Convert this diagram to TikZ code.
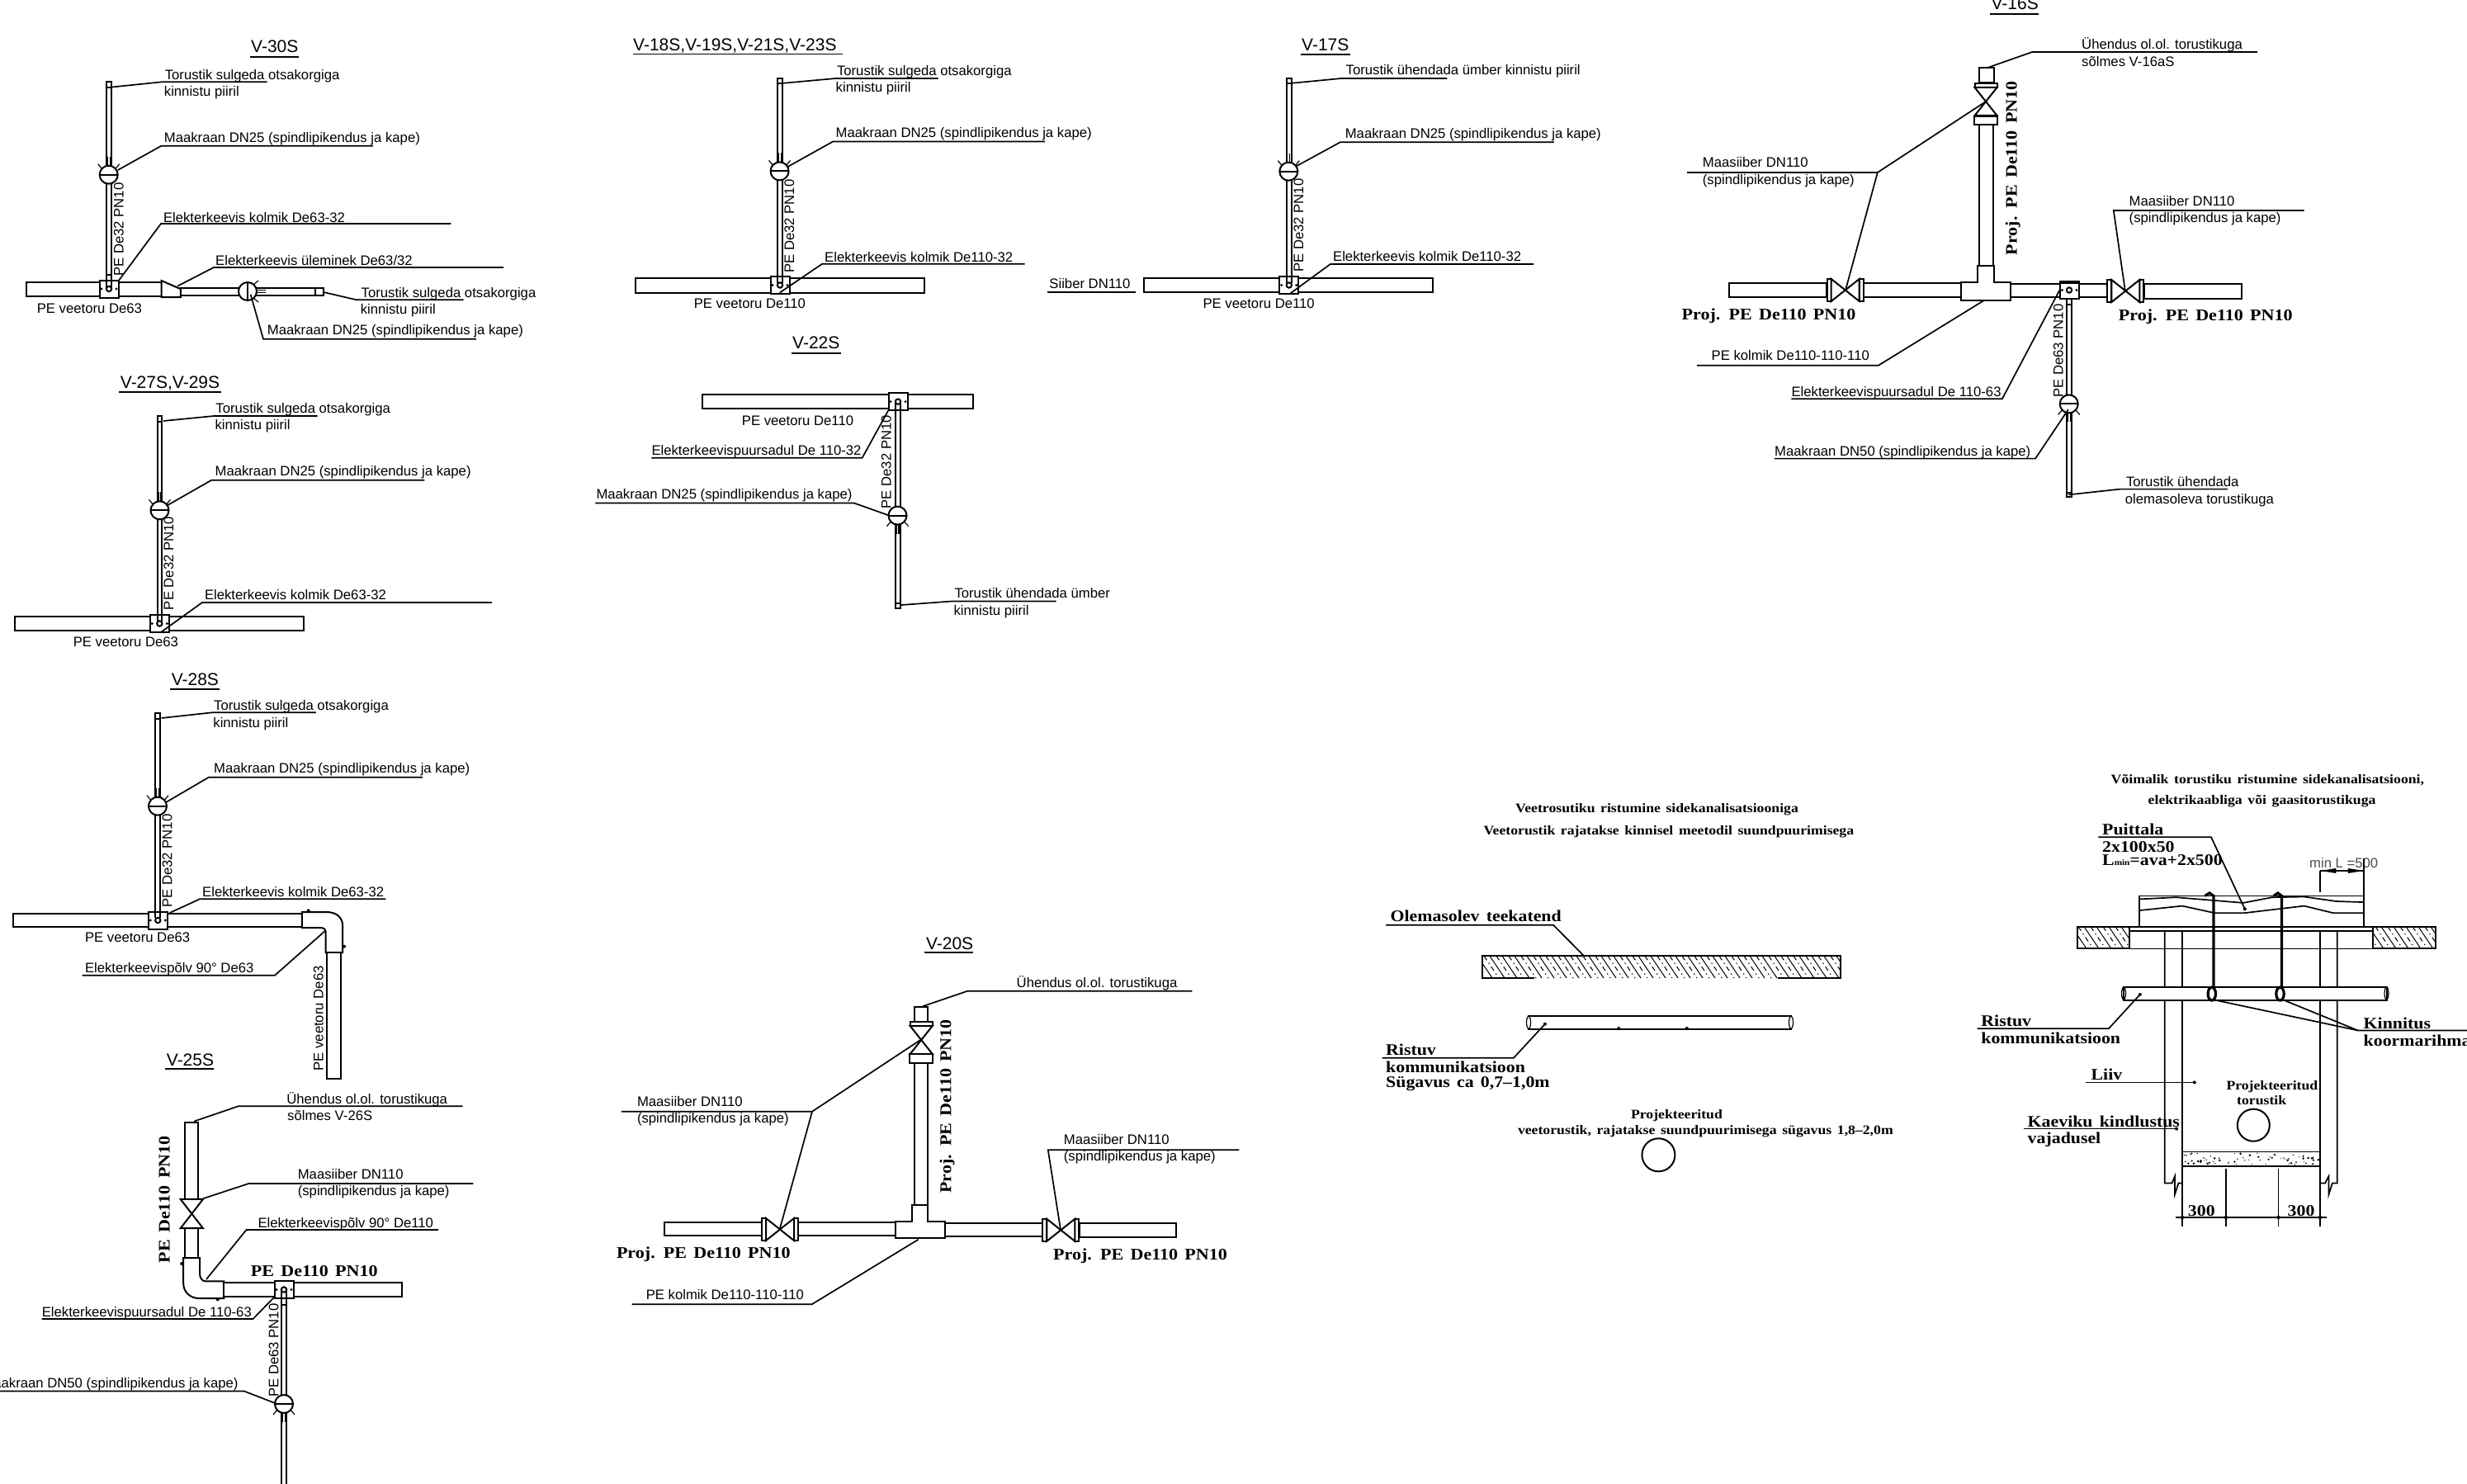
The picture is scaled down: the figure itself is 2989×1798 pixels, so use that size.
\documentclass[tikz,border=0pt]{standalone}
\usepackage{fontspec}
\setmainfont{Liberation Sans}
\newfontfamily\cadfont[FakeStretch=1.12,WordSpace=1.5]{Liberation Serif}
\tikzset{
    lbl/.style={anchor=base west,inner sep=0pt,font=\fontsize{16.7}{20}\selectfont},
    lble/.style={lbl,anchor=base east},
    vlbl/.style={lbl,rotate=90},
    ttl/.style={lbl,font=\fontsize{21}{24}\selectfont},
    cad/.style={anchor=base west,inner sep=0pt,font=\cadfont\bfseries\fontsize{#1}{#1}\selectfont},
    vcad/.style={cad=#1,rotate=90},
    pipe/.style={draw,line width=2pt,fill=white},
    leader/.style={draw,line width=1.7pt},
    thinl/.style={draw,line width=1.2pt},
    hatchl/.style={draw,line width=1pt},
    strap/.style={draw,line width=3.2pt}
}
\newcommand{\maakraan}[3]{
    \begin{scope}[shift={(#1,#2)},rotate=#3]
        \draw[thinl] (-1.5,-22) -- (-1.5,-11) (1.5,-22) -- (1.5,-11);
        \draw[thinl] (-13,-13) -- (-8,-7) (13,-13) -- (8,-7);
        \draw[pipe] (0,0) circle[radius=11];
        \draw[pipe] (-11,0) -- (11,0);
    \end{scope}
}
\newcommand{\sadul}[2]{
    \draw[pipe] (#1-11.5,#2-10.5) rectangle (#1+11.5,#2+10.5);
    \draw[pipe] (#1,#2) circle[radius=3.2];
    \fill (#1-9,#2) circle[radius=1.6] (#1+9,#2) circle[radius=1.6];
}
\newcommand{\siiber}[3]{
    \begin{scope}[shift={(#1,#2)},rotate=#3]
        \draw[pipe] (-22,-13.5) rectangle (-17,13.5);
        \draw[pipe] (17,-13.5) rectangle (22,13.5);
        \draw[pipe] (-17,-13.5) -- (17,13.5) -- (17,-13.5) -- (-17,13.5) -- cycle;
    \end{scope}
}
\begin{document}
\begin{tikzpicture}[x=1pt,y=-1pt]
    \path[use as bounding box,fill=white] (0,0) rectangle (2989,1798);

    % V-30S
    \node[ttl] (v30) at (304,63.3) {V-30S};
    \draw[leader] (303,69) -- (362,69);
    \draw[pipe] (32,341.7) rectangle (195.5,358.7);
    \draw[pipe] (128.5,99.3) rectangle (135,340);
    \draw[pipe] (128.5,99.3) rectangle (135,106);
    \draw[pipe] (128.5,333.3) rectangle (135,342);
    \sadul{132}{350}
    \draw[pipe] (128.5,333.3) -- (128.5,349) (135,333.3) -- (135,349);
    \maakraan{131.7}{211.7}{0}
    \draw[pipe] (195.5,340) -- (215,348.5) -- (218.8,350) -- (218.8,360) -- (195.5,360) -- cycle;
    \draw[pipe] (218.8,349.3) rectangle (392,358.3);
    \draw[pipe] (381.7,349.3) rectangle (392,358.3);
    \maakraan{300}{353}{-90}
    \node[lbl] (t30a) at (199.6,96.7) {Torustik sulgeda otsakorgiga};
    \node[lbl] (t30b) at (198.7,116.7) {kinnistu piiril};
    \draw[leader] (134,105.7) -- (196,99.3) -- (323.6,99.3);
    \node[lbl] (m30) at (198.7,172.3) {Maakraan DN25 (spindlipikendus ja kape)};
    \draw[leader] (142.9,206) -- (195.5,176.7) -- (451.8,176.7);
    \node[vlbl] (p30) at (149.5,335) {PE De32 PN10};
    \node[lbl] (k30) at (197.8,269) {Elekterkeevis kolmik De63-32};
    \draw[leader] (143.8,340) -- (195,271) -- (546.4,271);
    \node[lbl] (u30) at (261,321.7) {Elekterkeevis üleminek De63/32};
    \draw[leader] (215,346.7) -- (259,324) -- (610,324);
    \node[lbl] (w30) at (44.6,379.3) {PE veetoru De63};
    \node[lbl] (t30c) at (437.5,360) {Torustik sulgeda otsakorgiga};
    \node[lbl] (t30d) at (436.6,380) {kinnistu piiril};
    \draw[leader] (392,354) -- (432,363.3) -- (561.6,363.3);
    \node[lbl] (m30b) at (323.7,405) {Maakraan DN25 (spindlipikendus ja kape)};
    \draw[leader] (303.6,356.7) -- (319,410.7) -- (576.8,410.7);

    % V-27S,V-29S
    \node[ttl] (v27) at (145.7,470.7) {V-27S,V-29S};
    \draw[leader] (144,475) -- (268,475);
    \draw[pipe] (18.4,747.3) rectangle (368.2,764);
    \draw[pipe] (190.6,504) rectangle (196.3,746.7);
    \draw[pipe] (190.6,504) rectangle (196.3,510.7);
    \sadul{193.3}{755.5}
    \draw[pipe] (190.6,738.3) -- (190.6,753) (196.3,738.3) -- (196.3,753);
    \maakraan{193.5}{618.3}{0}
    \node[lbl] (t27a) at (261.2,500.7) {Torustik sulgeda otsakorgiga};
    \node[lbl] (t27b) at (260.4,520.7) {kinnistu piiril};
    \draw[leader] (198,510) -- (259.2,504) -- (384.5,504);
    \node[lbl] (m27) at (260.4,576.7) {Maakraan DN25 (spindlipikendus ja kape)};
    \draw[leader] (202,612.7) -- (256.3,581.7) -- (514.3,581.7);
    \node[vlbl] (p27) at (210.2,739.3) {PE De32 PN10};
    \node[lbl] (k27) at (247.8,726.7) {Elekterkeevis kolmik De63-32};
    \draw[leader] (195,766) -- (244.9,730) -- (595.9,730);
    \node[lbl] (w27) at (88.6,783.3) {PE veetoru De63};

    % V-28S
    \node[ttl] (v28) at (207.6,830.7) {V-28S};
    \draw[leader] (206,835) -- (265.7,835);
    \draw[pipe] (15.8,1106.7) rectangle (365.8,1123.3);
    \draw[pipe] (188.2,864) rectangle (193.8,1106);
    \draw[pipe] (188.2,864) rectangle (193.8,870.7);
    \sadul{191.3}{1115}
    \draw[pipe] (188.2,1096.7) -- (188.2,1112) (193.8,1096.7) -- (193.8,1112);
    \maakraan{191}{976.7}{0}
    \draw[pipe] (365.8,1105) -- (395.4,1105) .. controls (408,1105) and (415.2,1112) .. (415.2,1121.7) -- (415.2,1154) -- (394.6,1154) -- (394.6,1128.3) .. controls (394.6,1126) and (392,1124) .. (389.5,1124) -- (365.8,1124) -- cycle;
    \draw[pipe] (396.2,1154) rectangle (413.2,1307);
    \fill (373.7,1103.3) circle[radius=2] (417,1146.7) circle[radius=2];
    \node[lbl] (t28a) at (259,860.7) {Torustik sulgeda otsakorgiga};
    \node[lbl] (t28b) at (258.2,881) {kinnistu piiril};
    \draw[leader] (195.7,870) -- (257,863.3) -- (382.8,863.3);
    \node[lbl] (m28) at (259,936.7) {Maakraan DN25 (spindlipikendus ja kape)};
    \draw[leader] (201.7,971.7) -- (253,941.7) -- (512,941.7);
    \node[vlbl] (p28) at (208.4,1100) {PE De32 PN10};
    \node[lbl] (k28) at (245,1086) {Elekterkeevis kolmik De63-32};
    \draw[leader] (205.6,1106) -- (242,1089.3) -- (467.4,1089.3);
    \node[vlbl] (w28b) at (391.5,1297.7) {PE veetoru De63};
    \node[lbl] (w28) at (102.8,1141.7) {PE veetoru De63};
    \node[lbl] (e28) at (102.8,1178.3) {Elekterkeevispõlv 90° De63};
    \draw[leader] (393.4,1128.3) -- (333,1181.7) -- (99.6,1181.7);

    % V-25S
    \node[ttl] (v25) at (201.7,1291.6) {V-25S};
    \draw[leader] (199.7,1295) -- (259,1295);
    \draw[pipe] (223.8,1359.5) rectangle (240.4,1452.9);
    \draw[pipe] (223.8,1488.2) rectangle (240.4,1524);
    \draw[pipe] (218.7,1452.9) -- (246,1452.9) -- (218.7,1488.2) -- (246,1488.2) -- cycle;
    \draw[pipe] (222.2,1524) -- (242,1524) -- (242,1543) .. controls (242,1548) and (245,1552.4) .. (249,1552.4) -- (271.3,1552.4) -- (271.3,1573) -- (241.2,1573) .. controls (230,1573) and (222.2,1565) .. (222.2,1555) -- cycle;
    \draw[pipe] (271.3,1554.4) rectangle (487,1571.3);
    \fill (220.2,1531) circle[radius=2] (263.7,1574.3) circle[radius=2];
    \draw[pipe] (341.2,1568) rectangle (346.8,1810);
    \draw[pipe] (341.2,1573) -- (346.8,1573) (341.2,1581) -- (346.8,1581);
    \sadul{344}{1562.5}
    \draw[pipe] (341.2,1564) -- (341.2,1574) (346.8,1564) -- (346.8,1574);
    \maakraan{344}{1701}{180}
    \node[cad=19.7] (h25) at (303.7,1546.9) {PE  De110  PN10};
    \node[vcad=19.7] (r25) at (205.6,1530.4) {PE  De110  PN10};
    \node[lbl] (o25) at (347.2,1337.2) {Ühendus ol.ol. torustikuga};
    \node[lbl] (o25b) at (348,1357.8) {sõlmes V-26S};
    \draw[leader] (235.3,1358.5) -- (288.7,1340.3) -- (560.7,1340.3);
    \node[lbl] (s25) at (360.6,1428) {Maasiiber DN110};
    \node[lbl] (s25b) at (360.6,1448) {(spindlipikendus ja kape)};
    \draw[leader] (246,1452.2) -- (301.3,1434) -- (573.4,1434);
    \node[lbl] (e25) at (312.4,1487) {Elekterkeevispõlv 90° De110};
    \draw[leader] (250,1550) -- (298.5,1490) -- (531,1490);
    \node[lbl] (a25) at (50.6,1595.6) {Elekterkeevispuursadul De 110-63};
    \draw[leader] (333.3,1570.6) -- (306.5,1598) -- (50.6,1598);
    \node[vlbl] (p25) at (337.3,1693) {PE De63 PN10};
    \node[lble] (m25) at (288.7,1681.4) {Maakraan DN50 (spindlipikendus ja kape)};
    \draw[leader] (334,1700.3) -- (295.8,1685.5) -- (0,1685.5);

    % V-18S,V-19S,V-21S,V-23S
    \node[ttl] (v18) at (767,62) {V-18S,V-19S,V-21S,V-23S};
    \draw[leader] (767,65.4) -- (1020.5,65.4);
    \draw[pipe] (770,336.7) rectangle (1119.6,354.7);
    \draw[pipe] (942,95) rectangle (948.2,336);
    \draw[pipe] (942,95) rectangle (948.2,101);
    \sadul{945}{345.5}
    \draw[pipe] (942,327) -- (942,343) (948.2,327) -- (948.2,343);
    \maakraan{944.6}{207.4}{0}
    \node[lbl] (t18a) at (1013.8,91.3) {Torustik sulgeda otsakorgiga};
    \node[lbl] (t18b) at (1012.5,111.2) {kinnistu piiril};
    \draw[leader] (948.7,100.8) -- (1012.5,95) -- (1136.6,95);
    \node[lbl] (m18) at (1012.5,166.9) {Maakraan DN25 (spindlipikendus ja kape)};
    \draw[leader] (954.5,202) -- (1009,171.6) -- (1266,171.6);
    \node[vlbl] (p18) at (962,331) {PE De32 PN10};
    \node[lbl] (k18) at (999,317) {Elekterkeevis kolmik De110-32};
    \draw[leader] (944.6,354.7) -- (996,319.8) -- (1241.5,319.8);
    \node[lbl] (w18) at (840.6,373.6) {PE veetoru De110};

    % V-22S
    \node[ttl] (v22) at (960,422.6) {V-22S};
    \draw[leader] (959.4,427.8) -- (1019,427.8);
    \draw[pipe] (850.9,478.3) rectangle (1178.6,495.3);
    \draw[pipe] (1084.8,495) rectangle (1090.6,737);
    \draw[pipe] (1084.8,731) rectangle (1090.6,737);
    \sadul{1088}{486.6}
    \draw[pipe] (1084.8,488) -- (1084.8,502) (1090.6,488) -- (1090.6,502);
    \maakraan{1087.5}{624.6}{180}
    \node[lbl] (w22) at (898.7,515) {PE veetoru De110};
    \node[lbl] (a22) at (789.3,551.5) {Elekterkeevispuursadul De 110-32};
    \draw[leader] (1076.3,497.2) -- (1044.6,554.8) -- (789.3,554.8);
    \node[lbl] (m22) at (722.3,604.8) {Maakraan DN25 (spindlipikendus ja kape)};
    \draw[leader] (1077.2,624.6) -- (1034.8,609.5) -- (721.4,609.5);
    \node[vlbl] (p22) at (1079.5,616.6) {PE De32 PN10};
    \node[lbl] (t22a) at (1156.3,724.7) {Torustik ühendada ümber};
    \node[lbl] (t22b) at (1155.4,745) {kinnistu piiril};
    \draw[leader] (1092,733) -- (1154.5,728.4) -- (1279.5,728.4);

    % V-17S
    \node[ttl] (v17) at (1577,61.7) {V-17S};
    \draw[leader] (1576,66) -- (1636,66);
    \draw[pipe] (1386.3,337.3) rectangle (1736.3,354);
    \draw[pipe] (1558.7,95) rectangle (1564.5,336);
    \draw[pipe] (1558.7,95) rectangle (1564.5,101);
    \sadul{1561.8}{345.5}
    \draw[pipe] (1558.7,328.3) -- (1558.7,343) (1564.5,328.3) -- (1564.5,343);
    \maakraan{1561.3}{207.7}{0}
    \node[lbl] (t17) at (1630.5,91) {Torustik ühendada ümber kinnistu piiril};
    \draw[leader] (1565.8,100.7) -- (1625.2,95) -- (1753.3,95);
    \node[lbl] (m17) at (1629.6,167.7) {Maakraan DN25 (spindlipikendus ja kape)};
    \draw[leader] (1570,201.7) -- (1623.8,172.3) -- (1882.8,172.3);
    \node[vlbl] (p17) at (1579.2,330) {PE De32 PN10};
    \node[lbl] (k17) at (1614.9,316.7) {Elekterkeevis kolmik De110-32};
    \draw[leader] (1562.7,356) -- (1611.8,320) -- (1858.2,320);
    \node[lbl] (w17) at (1457.3,373.3) {PE veetoru De110};
    \node[lbl] (b17) at (1271.2,349.3) {Siiber DN110};
    \draw[leader] (1269,354) -- (1376,354);

    % V-16S
    \node[ttl] (v16) at (2412.4,12) {V-16S};
    \draw[leader] (2410.8,17.3) -- (2470.3,17.3);
    \draw[pipe] (2398,82.4) rectangle (2416.2,100.4);
    \draw[pipe] (2398,150.7) rectangle (2415,322);
    \draw[pipe] (2095.3,342.7) rectangle (2213,359.6);
    \draw[pipe] (2257.6,342.7) rectangle (2375.5,360.4);
    \draw[pipe] (2435.5,343.5) rectangle (2552.8,360.4);
    \draw[pipe] (2597.7,344.3) rectangle (2716,361.6);
    \siiber{2235.7}{351.5}{0}
    \siiber{2575.3}{352.5}{0}
    \siiber{2406}{123}{90}
    \draw[pipe] (2392,140.6) rectangle (2420,150.7);
    \draw[pipe] (2395.8,342.3) -- (2395.8,322) -- (2416.2,322) -- (2416.2,342.3) -- (2435.5,342.3) -- (2435.5,363.6) -- (2375.5,363.6) -- (2375.5,342.3) -- cycle;
    \draw[pipe] (2504,361.6) rectangle (2510.4,601.9);
    \draw[pipe] (2504,596.6) rectangle (2510.4,601.9);
    \draw[pipe] (2504,361.6) rectangle (2510.4,368.8);
    \draw[pipe] (2496,340.7) rectangle (2518.5,361.6);
    \draw[pipe] (2507,351.5) circle[radius=3.2];
    \fill (2498.5,351.5) circle[radius=1.6] (2516,351.5) circle[radius=1.6];
    \draw[line width=3pt] (2496,342.5) -- (2518.5,342.5);
    \maakraan{2506.7}{489.4}{180}
    \node[lbl] (o16) at (2522,59.5) {Ühendus ol.ol. torustikuga};
    \node[lbl] (o16b) at (2522,80.4) {sõlmes V-16aS};
    \draw[leader] (2407,82.4) -- (2462.2,63) -- (2734.9,63);
    \node[lbl] (s16) at (2062.7,203) {Maasiiber DN110};
    \node[lbl] (s16b) at (2062.7,223) {(spindlipikendus ja kape)};
    \draw[leader] (2044,209) -- (2274.8,209) -- (2405.5,123.3);
    \draw[leader] (2274.8,209) -- (2236,351.5);
    \node[lbl] (s16c) at (2579.5,249) {Maasiiber DN110};
    \node[lbl] (s16d) at (2579.5,269) {(spindlipikendus ja kape)};
    \draw[leader] (2791.6,255) -- (2560.8,255) -- (2574.7,351.5);
    \node[cad=19.7] (h16) at (2037.5,387.7) {Proj.  PE  De110  PN10};
    \node[cad=19.7] (h16b) at (2566.7,388.9) {Proj.  PE  De110  PN10};
    \node[vcad=19.7] (r16) at (2443.5,309.4) {Proj.  PE  De110  PN10};
    \node[lbl] (k16) at (2073.4,436.7) {PE kolmik De110-110-110};
    \draw[leader] (2404.4,363.6) -- (2275.8,442.8) -- (2056.2,442.8);
    \node[lbl] (a16) at (2170.3,480) {Elekterkeevispuursadul De 110-63};
    \draw[leader] (2495.4,351.5) -- (2425.8,483.3) -- (2170.3,483.3);
    \node[vlbl] (p16) at (2499.7,482) {PE De63 PN10};
    \node[lbl] (m16) at (2150,552.4) {Maakraan DN50 (spindlipikendus ja kape)};
    \draw[leader] (2506,496) -- (2466,555.6) -- (2150,555.6);
    \node[lbl] (t16a) at (2575.8,589.4) {Torustik ühendada};
    \node[lbl] (t16b) at (2574.7,610.7) {olemasoleva torustikuga};
    \draw[leader] (2506.2,599.4) -- (2568.8,592.6) -- (2699,592.6);

    % V-20S
    \node[ttl] (v20) at (1121.8,1150) {V-20S};
    \draw[leader] (1120.3,1154.3) -- (1179,1154.3);
    \draw[pipe] (1107.6,1220) rectangle (1124.4,1238.3);
    \draw[pipe] (1107.6,1288.3) rectangle (1124.4,1460);
    \draw[pipe] (805,1480.7) rectangle (922.9,1497.3);
    \draw[pipe] (967.2,1480.7) rectangle (1085,1497.3);
    \draw[pipe] (1144.8,1481.7) rectangle (1263,1498.3);
    \draw[pipe] (1307.6,1482.3) rectangle (1425,1499);
    \siiber{945}{1489.5}{0}
    \siiber{1285.3}{1490.3}{0}
    \siiber{1116.2}{1260}{90}
    \draw[pipe] (1102.4,1277.3) rectangle (1130,1288.3);
    \draw[pipe] (1105,1480) -- (1105,1460) -- (1124.4,1460) -- (1124.4,1480) -- (1144.8,1480) -- (1144.8,1500) -- (1085,1500) -- (1085,1480) -- cycle;
    \node[lbl] (o20) at (1231.5,1196.7) {Ühendus ol.ol. torustikuga};
    \draw[leader] (1117.8,1219.3) -- (1172.3,1200.7) -- (1444.3,1200.7);
    \node[lbl] (s20) at (771.8,1340.7) {Maasiiber DN110};
    \node[lbl] (s20b) at (771.8,1360.7) {(spindlipikendus ja kape)};
    \draw[leader] (753,1346.7) -- (984,1346.7) -- (1115.2,1260);
    \draw[leader] (984,1346.7) -- (944.8,1489);
    \node[lbl] (s20c) at (1288.7,1386.7) {Maasiiber DN110};
    \node[lbl] (s20d) at (1288.7,1406.7) {(spindlipikendus ja kape)};
    \draw[leader] (1501.4,1393.3) -- (1269.8,1393.3) -- (1285,1490);
    \node[cad=19.7] (h20) at (746.8,1524) {Proj.  PE  De110  PN10};
    \node[cad=19.7] (h20b) at (1276,1526) {Proj.  PE  De110  PN10};
    \node[vcad=19.7] (r20) at (1152.4,1446) {Proj.  PE  De110  PN10};
    \node[lbl] (k20) at (782.6,1574) {PE kolmik De110-110-110};
    \draw[leader] (1112.7,1501.7) -- (983.6,1580.3) -- (765.7,1580.3);

    % Veetorustiku ristumine
    \node[cad=15.8] (x1a) at (1836,984.3) {Veetrosutiku  ristumine  sidekanalisatsiooniga};
    \node[cad=15.8] (x1b) at (1797.3,1011) {Veetorustik  rajatakse  kinnisel  meetodil  suundpuurimisega};
    \node[cad=19.5] (x1c) at (1684.4,1116.7) {Olemasolev  teekatend};
    \draw[leader] (1679,1120.7) -- (1882,1120.7) -- (1919.2,1158.3);
    \begin{scope}
        \clip (1796,1158.3) rectangle (2230.4,1185);
        \foreach \hx in {0,15,...,435} {
            \draw[hatchl] (1790+\hx,1158.3) -- (1808+\hx,1185);
            \draw[hatchl,dash pattern=on 6pt off 4pt on 1.5pt off 4pt] (1798+\hx,1158.3) -- (1816+\hx,1185);
        }
    \end{scope}
    \draw[pipe,fill=none] (1859,1185) -- (1796,1185) -- (1796,1158.3) -- (2230.4,1158.3) -- (2230.4,1185) -- (2153.6,1185);
    \draw[pipe] (1850.9,1231) -- (2171.4,1231) (1850.9,1246.7) -- (2171.4,1246.7);
    \draw[thinl] (1852,1238.8) ellipse[x radius=2.5,y radius=7.5] (2170,1238.8) ellipse[x radius=2.5,y radius=7.5];
    \fill (1961.2,1246) circle[radius=2] (2043.8,1246) circle[radius=2] (1871.9,1240.7) circle[radius=2];
    \node[cad=19.5] (x1d) at (1679,1278.3) {Ristuv};
    \draw[leader] (1674.6,1281.7) -- (1834,1281.7) -- (1871.9,1240.7);
    \node[cad=19.5] (x1e) at (1679,1299.3) {kommunikatsioon};
    \node[cad=19.5] (x1f) at (1679,1317.7) {Sügavus  ca  0,7–1,0m};
    \node[cad=15.8] (x1g) at (1975.9,1355) {Projekteeritud};
    \node[cad=15.8] (x1h) at (1838.8,1374.3) {veetorustik,  rajatakse  suundpuurimisega  sügavus  1,8–2,0m};
    \draw[pipe] (2009.4,1399.3) circle[radius=20];

    % Voimalik ristumine
    \node[cad=15.8] (x2a) at (2557.5,949.6) {Võimalik  torustiku  ristumine  sidekanalisatsiooni,};
    \node[cad=15.8] (x2b) at (2602.5,974.8) {elektrikaabliga  või  gaasitorustikuga};
    \node[cad=19.5] (x2c) at (2547,1011.7) {Puittala};
    \draw[leader] (2542.3,1014.3) -- (2679,1014.3) -- (2719.8,1101.3);
    \fill (2719.8,1101.3) circle[radius=2];
    \node[cad=19.5] (x2d) at (2547,1032) {2x100x50};
    \node[cad=19.5] (x2e) at (2547,1048.7) {L{\fontsize{10}{10}\selectfont min}=ava+2x500};
    \node[lbl,text=black!70] (x2f) at (2797.9,1051.3) {min L =500};
    \draw[thinl] (2811,1055) -- (2811,1081) (2863.9,1040) -- (2863.9,1122.7);
    \draw[thinl] (2811,1055) -- (2863.9,1055);
    \fill (2811,1055) -- (2830.4,1052) -- (2830.4,1058) -- cycle;
    \fill (2863.9,1055) -- (2844.9,1052) -- (2844.9,1058) -- cycle;
    \draw[leader] (2592,1085.4) -- (2863.9,1085.4) -- (2863.9,1122.7) -- (2592,1122.7) -- cycle;
    \draw[leader] (2592,1089.4) -- (2636.3,1087.2) -- (2683,1091) -- (2717.9,1093.9) -- (2752.8,1087.2) -- (2791.7,1086.5) -- (2830.5,1092) -- (2863.9,1093.1);
    \draw[leader] (2592,1103.1) -- (2644,1097.6) -- (2683,1106.1) -- (2719.8,1106.1) -- (2791.7,1097.6) -- (2826.6,1106.1) -- (2863.9,1106.1);
    \begin{scope}
        \clip (2516.7,1122.7) rectangle (2580,1149.4) (2875.1,1122.7) rectangle (2950.9,1149.4);
        \foreach \hx in {0,15,...,435} {
            \draw[hatchl] (2510+\hx,1122.7) -- (2528+\hx,1149.4);
            \draw[hatchl,dash pattern=on 6pt off 4pt on 1.5pt off 4pt] (2518+\hx,1122.7) -- (2536+\hx,1149.4);
        }
    \end{scope}
    \draw[pipe,fill=none] (2516.7,1122.7) rectangle (2580,1149.4);
    \draw[pipe,fill=none] (2875.1,1122.7) rectangle (2950.9,1149.4);
    \draw[leader] (2580,1122.7) -- (2875.1,1122.7) (2580,1128) -- (2875.1,1128) (2580,1149.4) -- (2875.1,1149.4);
    \draw[leader] (2622.7,1128) -- (2622.7,1433.5) -- (2631.6,1433.5) -- (2635,1425) -- (2635,1447) -- (2639.4,1433.5) -- (2644,1433.5);
    \draw[leader] (2644,1128) -- (2644,1486);
    \draw[leader] (2811,1128) -- (2811,1486);
    \draw[leader] (2811,1433.5) -- (2817,1433.5) -- (2821.5,1425) -- (2821.5,1447) -- (2825.8,1433.5) -- (2831.7,1433.5) -- (2831.7,1128);
    \draw[pipe] (2573,1195.6) rectangle (2891.5,1211.5);
    \draw[thinl] (2573,1203.5) ellipse[x radius=2.5,y radius=7.5] (2891.5,1203.5) ellipse[x radius=2.5,y radius=7.5];
    \draw[strap] (2671.3,1085.4) -- (2677,1082) -- (2682,1085.4) -- (2682,1195.6);
    \draw[strap] (2754.8,1085.4) -- (2759.8,1082) -- (2764.5,1085.4) -- (2764.5,1195.6);
    \draw[strap] (2679.8,1204.1) ellipse[x radius=4.7,y radius=8] (2762.5,1204.1) ellipse[x radius=4.7,y radius=8];
    \node[cad=19.5] (x2g) at (2400.2,1243.7) {Ristuv};
    \node[cad=19.5] (x2h) at (2400.2,1264) {kommunikatsioon};
    \draw[leader] (2395.5,1246.3) -- (2554.8,1246.3) -- (2592.8,1204.9);
    \fill (2592.8,1204.9) circle[radius=2];
    \node[cad=19.5] (x2i) at (2863.5,1246.3) {Kinnitus};
    \node[cad=19.5] (x2j) at (2863.5,1267) {koormarihma};
    \draw[leader] (2989,1248.5) -- (2856.9,1248.5) -- (2682.9,1211.5);
    \draw[leader] (2856.9,1248.5) -- (2766.4,1211.5);
    \node[cad=19.5] (x2k) at (2533.4,1308.5) {Liiv};
    \draw[leader] (2526.8,1311.4) -- (2658.8,1311.4);
    \fill (2658.8,1311.4) circle[radius=2];
    \node[cad=15.8] (x2l) at (2697.3,1320.3) {Projekteeritud};
    \node[cad=15.8] (x2m) at (2710,1338.8) {torustik};
    \draw[pipe] (2730.3,1363.2) circle[radius=19.5];
    \node[cad=19.5] (x2n) at (2456.5,1365.8) {Kaeviku  kindlustus};
    \draw[leader] (2451.5,1367.6) -- (2637,1367.6);
    \fill (2637,1367.6) circle[radius=2];
    \node[cad=19.5] (x2o) at (2456.5,1385.4) {vajadusel};
    \draw[leader] (2644,1395.4) -- (2811,1395.4) (2644,1412.8) -- (2811,1412.8);
    \pgfmathsetseed{7}
    \foreach \i in {1,...,70} {
        \fill (2646+163*rnd,1397+14*rnd) circle[radius=0.5+rnd];
    }
    \draw[leader] (2696.9,1415.7) -- (2696.9,1486) (2760.6,1415.7) -- (2760.6,1486);
    \draw[leader] (2636.3,1475) -- (2818.8,1475);
    \fill (2644,1475) circle[radius=2.2] (2696.9,1475) circle[radius=2.2] (2760.6,1475) circle[radius=2.2] (2811,1475) circle[radius=2.2];
    \node[cad=19.5] (x2p) at (2650.7,1473.8) {300};
    \node[cad=19.5] (x2q) at (2771.5,1473.8) {300};
\end{tikzpicture}
\end{document}
